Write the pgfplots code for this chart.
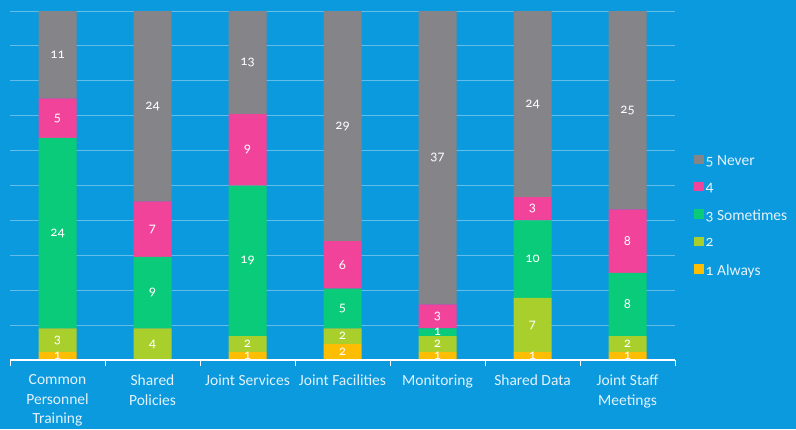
\documentclass[border=0pt]{standalone}
\usepackage{pgfplots}
\usepackage{pgfplotstable}
\pgfplotsset{compat=1.18}
\usepackage{fontspec}
\setmainfont[Numbers=OldStyle]{Carlito}
\definecolor{bg}{HTML}{0A9ADD}
\definecolor{gridc}{HTML}{62BDEA}
\definecolor{txt}{HTML}{E4F2FB}
\definecolor{cA}{HTML}{FDBD00}
\definecolor{cB}{HTML}{A8CF2B}
\definecolor{cC}{HTML}{0ACB79}
\definecolor{cD}{HTML}{F2439B}
\definecolor{cE}{HTML}{858488}
\pgfplotstableread{
x a b c d e t
0 1 3 24 5 11 44
1 0 4 9 7 24 44
2 1 2 19 9 13 44
3 2 2 5 6 29 44
4 1 2 1 3 37 44
5 1 7 10 3 24 45
6 1 2 8 8 25 44
}\data
\pgfplotsset{
  base/.style={
    scale only axis, width=665pt, height=349pt,
    at={(10pt,69pt)}, anchor=south west,
    xmin=-0.5, xmax=6.5, ymin=0, ymax=100,
  },
  lab/.style={draw=none, mark=none, point meta=explicit,
    /pgf/number format/assume math mode=true,
    nodes near coords={\pgfmathfloatifflags{\pgfplotspointmeta}{0}{}{\pgfmathprintnumber[fixed,precision=0]{\pgfplotspointmeta}}},
    every node near coord/.style={anchor=center, font=\fontsize{14}{14}\selectfont, text=white}},
}
\begin{document}
\begin{tikzpicture}[x=1pt,y=1pt]
\fill[bg] (0,0) rectangle (796,429);
\begin{axis}[base,
  ybar stacked, bar width=38pt,
  axis lines*=left,
  x axis line style={white, line width=1.6pt, -},
  y axis line style={draw=none},
  ytick={0,10,...,100}, yticklabels={}, major y tick style={draw=none},
  ymajorgrids, grid style={gridc, line width=0.8pt},
  xtick={0,...,6}, major x tick style={draw=none},
  minor xtick={-0.5,0.5,...,6.5}, minor x tick style={white, line width=0.8pt},
  minor tick length=6pt, tick align=outside,
  xticklabels={Common\\Personnel\\Training, Shared\\Policies, Joint Services, Joint Facilities, Monitoring, Shared Data, Joint Staff\\Meetings},
  xticklabel style={align=center, text=txt, font=\fontsize{15.5}{19.5}\selectfont, yshift=-7pt},
  reverse legend,
  legend style={at={(1,0.413)}, anchor=west, xshift=16pt, draw=none, fill=none,
    text=txt, font=\fontsize{15.5}{19}\selectfont, row sep=12.5pt, cells={anchor=west}},
  legend image code/.code={\fill[#1] (0pt,-3.5pt) rectangle (9.5pt,6pt);},
]
\addplot[fill=cA, draw=none] table[x=x, y expr=\thisrow{a}/\thisrow{t}*100]{\data};
\addplot[fill=cB, draw=none] table[x=x, y expr=\thisrow{b}/\thisrow{t}*100]{\data};
\addplot[fill=cC, draw=none] table[x=x, y expr=\thisrow{c}/\thisrow{t}*100]{\data};
\addplot[fill=cD, draw=none] table[x=x, y expr=\thisrow{d}/\thisrow{t}*100]{\data};
\addplot[fill=cE, draw=none] table[x=x, y expr=\thisrow{e}/\thisrow{t}*100]{\data};
\legend{1 Always, 2, 3 Sometimes, 4, 5 Never}
\end{axis}
\begin{axis}[base, hide axis, clip=false]
\addplot[lab] table[x=x, meta=a, y expr=(\thisrow{a}/2)/\thisrow{t}*100]{\data};
\addplot[lab] table[x=x, meta=b, y expr=(\thisrow{a}+\thisrow{b}/2)/\thisrow{t}*100]{\data};
\addplot[lab] table[x=x, meta=c, y expr=(\thisrow{a}+\thisrow{b}+\thisrow{c}/2)/\thisrow{t}*100]{\data};
\addplot[lab] table[x=x, meta=d, y expr=(\thisrow{a}+\thisrow{b}+\thisrow{c}+\thisrow{d}/2)/\thisrow{t}*100]{\data};
\addplot[lab] table[x=x, meta=e, y expr=(\thisrow{a}+\thisrow{b}+\thisrow{c}+\thisrow{d}+\thisrow{e}/2)/\thisrow{t}*100]{\data};
\end{axis}
\draw[white, line width=1.6pt] (10,69) -- (675,69);
\pgfresetboundingbox
\useasboundingbox (0,0) rectangle (796,429);
\end{tikzpicture}
\end{document}
